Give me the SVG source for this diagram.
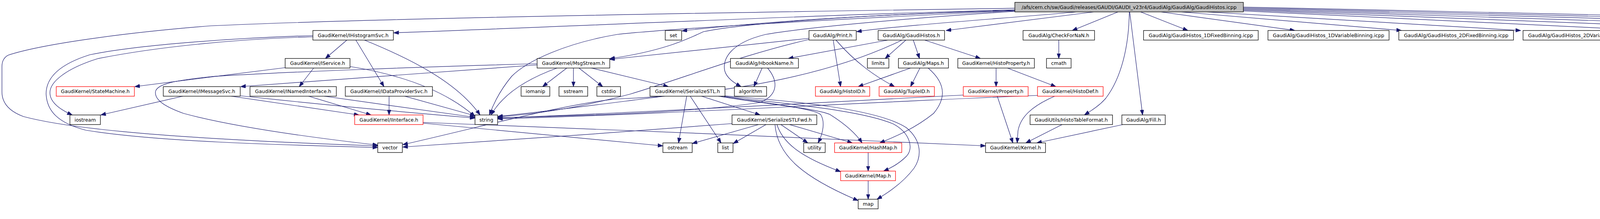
<svg xmlns="http://www.w3.org/2000/svg" width="6272" height="560" viewBox="0 0 6272 560">
<style>
.t{font-family:"DejaVu Sans","Liberation Sans",sans-serif;font-size:12.4px;text-anchor:middle;fill:#000}
.n{fill:#fff;stroke:#000;stroke-width:1.3}
.r{fill:#fff;stroke:#f00;stroke-width:1.3}
.g{fill:#bfbfbf;stroke:#000;stroke-width:1.3}
.e{fill:none;stroke:#191970;stroke-width:1.2;marker-end:url(#a)}
</style>
<defs>
<marker id="a" markerWidth="14" markerHeight="10" refX="13" refY="4.75" orient="auto" markerUnits="userSpaceOnUse"><path d="M0,0 L13,4.75 L0,9.5 z" fill="#191970" stroke="#191970" stroke-width="1"/></marker>
</defs>
<rect width="6272" height="560" fill="#fff"/>
<g id="connectors">
<path class="e" d="M2598,21 C2000,30 1000,45 540,66 C300,85 100,115 21,141 C8,148 5,160 5,170 L5,235 C5,265 25,285 60,298 C150,322 350,352 967,373"/>
<path class="e" d="M2598,25 C2100,38 1600,62 1008,84"/>
<path class="e" d="M2598,27 C2300,35 2000,50 1746,79"/>
<path class="e" d="M2598,26 C2200,38 1900,60 1801,81 C1760,100 1700,130 1561,150"/>
<path class="e" d="M2755,30.5 C2600,45 2300,65 2193,81"/>
<path class="e" d="M2800,30.5 L2422,78"/>
<path class="e" d="M2862,30.5 L2745,78"/>
<path class="e" d="M2891,30.5 C2890,120 2870,200 2831,251 C2815,270 2795,282 2776,294"/>
<path class="e" d="M2892,30.5 L2925,294"/>
<path class="e" d="M2920,30.5 L3041,78"/>
<path class="e" d="M2972,30.5 L3315,78"/>
<path class="e" d="M3024,30.5 L3588,78"/>
<path class="e" d="M3089,30.5 L3893,78"/>
<path class="e" d="M3183,28 L4229,78"/>
<path class="e" d="M3183,26 L4548,78"/>
<path class="e" d="M3183,24 L4883,78"/>
<path class="e" d="M3183,22 L5225,78"/>
<path class="e" d="M3183,20 L5585,78"/>
<path class="e" d="M3183,18 L5927,78"/>
<path class="e" d="M2598,29 C2300,48 2050,72 1960,88 C1870,110 1850,150 1855,180 C1860,200 1880,212 1897,221.5"/>
<path class="e" d="M2598,28 C2100,50 1700,75 1580,88 C1450,110 1350,155 1310,195 C1285,225 1265,260 1253,294"/>
<path class="e" d="M2273,102.5 L2018,149.5"/>
<path class="e" d="M2319,102.5 L2266,149.5"/>
<path class="e" d="M2338,102.5 L2354,149.5"/>
<path class="e" d="M2367,102.5 L2510,149.5"/>
<path class="e" d="M2309,102.5 C2150,180 1900,240 1580,253 C1450,265 1250,320 1031,370"/>
<path class="e" d="M2133,102.5 L2152,221.5"/>
<path class="e" d="M2140,102.5 C2190,160 2240,195 2290,221.5"/>
<path class="e" d="M2071,98 L1561,152"/>
<path class="e" d="M2071,101 C1900,140 1750,200 1612,241 C1500,270 1400,290 1274,299"/>
<path class="e" d="M2331,174 L2197,221.5"/>
<path class="e" d="M2355,174 L2331,221.5"/>
<path class="e" d="M2376,174 C2430,220 2415,260 2390,290 C2340,330 2290,350 2252,365.5"/>
<path class="e" d="M2550,174 L2550,221.5"/>
<path class="e" d="M2579,174 L2703,221.5"/>
<path class="e" d="M2553,246 L2593,365.5"/>
<path class="e" d="M2466,243 C2100,262 1700,285 1274,302"/>
<path class="e" d="M2700,246 C2640,272 2612,300 2606,335 L2604,365.5"/>
<path class="e" d="M2656,244 C2200,262 1750,290 1274,304"/>
<path class="e" d="M2719,318.5 L2626,365.5"/>
<path class="e" d="M2875,318.5 L2654,365.5"/>
<path class="e" d="M2710.5,102.5 L2710.5,149.5"/>
<path class="e" d="M1951,174 L1930,221.5"/>
<path class="e" d="M1965,174 C1995,210 1990,245 1945,262 C1800,285 1500,296 1274,301"/>
<path class="e" d="M1451,174 L1389,221.5"/>
<path class="e" d="M1468,174 L1468,221.5"/>
<path class="e" d="M1482,174 L1543,221.5"/>
<path class="e" d="M1426,174 C1340,205 1285,245 1257,294"/>
<path class="e" d="M1514,174 L1711,221.5"/>
<path class="e" d="M1375,166 L616,221.5"/>
<path class="e" d="M1375,163 C1100,170 700,185 540,196 C450,205 400,215 398,235 C396,255 420,272 470,290 C600,325 800,352 967,371"/>
<path class="e" d="M888,102.5 L833,149.5"/>
<path class="e" d="M911,102.5 L983,221.5"/>
<path class="e" d="M933,102.5 C1050,150 1170,210 1229,294"/>
<path class="e" d="M801,94 C600,100 400,120 250,150 C170,175 125,210 128,240 C130,265 160,283 185,294"/>
<path class="e" d="M801,91 C600,97 350,115 230,140 C150,165 118,200 118,240 C120,285 150,315 220,333 C400,362 700,370 967,377"/>
<path class="e" d="M803,174 L766,221.5"/>
<path class="e" d="M730,173 L345,221.5"/>
<path class="e" d="M896,170 C1050,195 1150,240 1216,298"/>
<path class="e" d="M468,246 L258,294"/>
<path class="e" d="M592,246 L919,294"/>
<path class="e" d="M616,245 C800,265 1050,288 1216,302"/>
<path class="e" d="M790,246 L950,294"/>
<path class="e" d="M830,246 C950,262 1100,285 1216,300"/>
<path class="e" d="M996,246 L996,294"/>
<path class="e" d="M1036,246 L1216,296"/>
<path class="e" d="M1083,313 C1500,330 2100,352 2523,373"/>
<path class="e" d="M1083,315 C1300,335 1550,360 1697,373"/>
<path class="e" d="M1701,246 C1550,265 1400,285 1274,298"/>
<path class="e" d="M1758,246 L1737,365.5"/>
<path class="e" d="M1767,246 L1846,365.5"/>
<path class="e" d="M1796,246 L1946,294"/>
<path class="e" d="M1839,246 C1950,265 2080,275 2101,293 C2112,310 2108,340 2094,365.5"/>
<path class="e" d="M1846,246 C1950,262 2100,280 2125,293 C2160,315 2190,340 2207,365.5"/>
<path class="e" d="M1853,246 C2000,265 2200,280 2287,317 C2330,340 2340,380 2320,400 C2300,420 2280,430 2262,437.5"/>
<path class="e" d="M1855,245 C2050,260 2250,280 2321,327 C2360,360 2360,400 2340,430 C2310,470 2270,495 2245,509.5"/>
<path class="e" d="M1942,318.5 L1772,367"/>
<path class="e" d="M1961,318.5 L1877,367"/>
<path class="e" d="M1999,318.5 L2068,365.5"/>
<path class="e" d="M2021,318.5 L2182,365.5"/>
<path class="e" d="M1989,318.5 C2005,370 2060,405 2152,439"/>
<path class="e" d="M1984,318.5 C1990,400 2060,455 2197,513"/>
<path class="e" d="M1874,316 C1600,338 1300,358 1031,376"/>
<path class="e" d="M2222.5,390 L2222.5,437.5"/>
<path class="e" d="M2222.5,462 L2222.5,509.5"/>
</g>
<g id="n_top"><rect class="g" x="2598" y="6" width="585" height="24.5"/><text class="t" x="2890.5" y="22.5">/afs/cern.ch/sw/Gaudi/releases/GAUDI/GAUDI_v23r4/GaudiAlg/GaudiAlg/GaudiHistos.icpp</text></g>
<g id="n_ihistosvc"><rect class="n" x="801" y="78" width="206" height="24.5"/><text class="t" x="904" y="94.5">GaudiKernel/IHistogramSvc.h</text></g>
<g id="n_set"><rect class="n" x="1703" y="78" width="42" height="24.5"/><text class="t" x="1724" y="94.5">set</text></g>
<g id="n_print"><rect class="n" x="2071" y="78" width="121" height="24.5"/><text class="t" x="2131.5" y="94.5">GaudiAlg/Print.h</text></g>
<g id="n_gaudihistos"><rect class="n" x="2248" y="78" width="170" height="24.5"/><text class="t" x="2333" y="94.5">GaudiAlg/GaudiHistos.h</text></g>
<g id="n_checkfornan"><rect class="n" x="2619" y="78" width="183" height="24.5"/><text class="t" x="2710.5" y="94.5">GaudiAlg/CheckForNaN.h</text></g>
<g id="n_1dfixed"><rect class="n" x="2927.5" y="78" width="293.5" height="24.5"/><text class="t" x="3074.25" y="94.5">GaudiAlg/GaudiHistos_1DFixedBinning.icpp</text></g>
<g id="n_1dvar"><rect class="n" x="3246" y="78" width="310" height="24.5"/><text class="t" x="3401" y="94.5">GaudiAlg/GaudiHistos_1DVariableBinning.icpp</text></g>
<g id="n_2dfixed"><rect class="n" x="3581" y="78" width="293.5" height="24.5"/><text class="t" x="3727.75" y="94.5">GaudiAlg/GaudiHistos_2DFixedBinning.icpp</text></g>
<g id="n_2dvar"><rect class="n" x="3899" y="78" width="311" height="24.5"/><text class="t" x="4054.5" y="94.5">GaudiAlg/GaudiHistos_2DVariableBinning.icpp</text></g>
<g id="n_3dfixed"><rect class="n" x="4235" y="78" width="293" height="24.5"/><text class="t" x="4381.5" y="94.5">GaudiAlg/GaudiHistos_3DFixedBinning.icpp</text></g>
<g id="n_3dvar"><rect class="n" x="4552" y="78" width="311" height="24.5"/><text class="t" x="4707.5" y="94.5">GaudiAlg/GaudiHistos_3DVariableBinning.icpp</text></g>
<g id="n_1dproffixed"><rect class="n" x="4888" y="78" width="317" height="24.5"/><text class="t" x="5046.5" y="94.5">GaudiAlg/GaudiHistos_1DProfFixedBinning.icpp</text></g>
<g id="n_1dprofvar"><rect class="n" x="5229" y="78" width="336" height="24.5"/><text class="t" x="5397" y="94.5">GaudiAlg/GaudiHistos_1DProfVariableBinning.icpp</text></g>
<g id="n_2dproffixed"><rect class="n" x="5589" y="78" width="318" height="24.5"/><text class="t" x="5748" y="94.5">GaudiAlg/GaudiHistos_2DProfFixedBinning.icpp</text></g>
<g id="n_2dprofvar"><rect class="n" x="5931" y="78" width="336" height="24.5"/><text class="t" x="6099" y="94.5">GaudiAlg/GaudiHistos_2DProfVariableBinning.icpp</text></g>
<g id="n_iservice"><rect class="n" x="730" y="149.5" width="166" height="24.5"/><text class="t" x="813" y="166">GaudiKernel/IService.h</text></g>
<g id="n_msgstream"><rect class="n" x="1375" y="149.5" width="186" height="24.5"/><text class="t" x="1468" y="166">GaudiKernel/MsgStream.h</text></g>
<g id="n_hbookname"><rect class="n" x="1870" y="149.5" width="174" height="24.5"/><text class="t" x="1957" y="166">GaudiAlg/HbookName.h</text></g>
<g id="n_limits"><rect class="n" x="2220.5" y="149.5" width="55" height="24.5"/><text class="t" x="2248" y="166">limits</text></g>
<g id="n_maps"><rect class="n" x="2300" y="149.5" width="128" height="24.5"/><text class="t" x="2364" y="166">GaudiAlg/Maps.h</text></g>
<g id="n_histoproperty"><rect class="n" x="2452" y="149.5" width="196" height="24.5"/><text class="t" x="2550" y="166">GaudiKernel/HistoProperty.h</text></g>
<g id="n_cmath"><rect class="n" x="2679" y="149.5" width="63" height="24.5"/><text class="t" x="2710.5" y="166">cmath</text></g>
<g id="n_statemachine"><rect class="r" x="144" y="221.5" width="200" height="24.5"/><text class="t" x="244" y="238">GaudiKernel/StateMachine.h</text></g>
<g id="n_imessagesvc"><rect class="n" x="418" y="221.5" width="197" height="24.5"/><text class="t" x="516.5" y="238">GaudiKernel/IMessageSvc.h</text></g>
<g id="n_inamedinterface"><rect class="n" x="640" y="221.5" width="221" height="24.5"/><text class="t" x="750.5" y="238">GaudiKernel/INamedInterface.h</text></g>
<g id="n_idataprovidersvc"><rect class="n" x="884" y="221.5" width="223" height="24.5"/><text class="t" x="995.5" y="238">GaudiKernel/IDataProviderSvc.h</text></g>
<g id="n_iomanip"><rect class="n" x="1334" y="221.5" width="73.5" height="24.5"/><text class="t" x="1370.75" y="238">iomanip</text></g>
<g id="n_sstream"><rect class="n" x="1431" y="221.5" width="73.5" height="24.5"/><text class="t" x="1467.75" y="238">sstream</text></g>
<g id="n_cstdio"><rect class="n" x="1528" y="221.5" width="60.5" height="24.5"/><text class="t" x="1558.25" y="238">cstdio</text></g>
<g id="n_serializestl"><rect class="n" x="1664" y="221.5" width="192" height="24.5"/><text class="t" x="1760" y="238">GaudiKernel/SerializeSTL.h</text></g>
<g id="n_algorithm"><rect class="n" x="1880" y="221.5" width="82.5" height="24.5"/><text class="t" x="1921.25" y="238">algorithm</text></g>
<g id="n_histoid"><rect class="r" x="2087.5" y="221.5" width="139" height="24.5"/><text class="t" x="2157" y="238">GaudiAlg/HistoID.h</text></g>
<g id="n_tupleid"><rect class="r" x="2250.5" y="221.5" width="141.5" height="24.5"/><text class="t" x="2321.25" y="238">GaudiAlg/TupleID.h</text></g>
<g id="n_property"><rect class="r" x="2466" y="221.5" width="166" height="24.5"/><text class="t" x="2549" y="238">GaudiKernel/Property.h</text></g>
<g id="n_histodef"><rect class="r" x="2656" y="221.5" width="168" height="24.5"/><text class="t" x="2740" y="238">GaudiKernel/HistoDef.h</text></g>
<g id="n_iostream"><rect class="n" x="179" y="294" width="78" height="24.5"/><text class="t" x="218" y="310.5">iostream</text></g>
<g id="n_iinterface"><rect class="r" x="908" y="294" width="175" height="24.5"/><text class="t" x="995.5" y="310.5">GaudiKernel/IInterface.h</text></g>
<g id="n_string"><rect class="n" x="1216" y="294" width="58" height="24.5"/><text class="t" x="1245" y="310.5">string</text></g>
<g id="n_serializestlfwd"><rect class="n" x="1874" y="294" width="217" height="24.5"/><text class="t" x="1982.5" y="310.5">GaudiKernel/SerializeSTLFwd.h</text></g>
<g id="n_histotableformat"><rect class="n" x="2637" y="294" width="211" height="24.5"/><text class="t" x="2742.5" y="310.5">GaudiUtils/HistoTableFormat.h</text></g>
<g id="n_fill"><rect class="n" x="2872" y="294" width="111" height="24.5"/><text class="t" x="2927.5" y="310.5">GaudiAlg/Fill.h</text></g>
<g id="n_vector"><rect class="n" x="967" y="365.5" width="63" height="24.5"/><text class="t" x="998.5" y="382">vector</text></g>
<g id="n_ostream"><rect class="n" x="1697" y="365.5" width="75" height="24.5"/><text class="t" x="1734.5" y="382">ostream</text></g>
<g id="n_list"><rect class="n" x="1837.5" y="365.5" width="39" height="24.5"/><text class="t" x="1857" y="382">list</text></g>
<g id="n_utility"><rect class="n" x="2057.5" y="365.5" width="55" height="24.5"/><text class="t" x="2085" y="382">utility</text></g>
<g id="n_hashmap"><rect class="r" x="2136.5" y="365.5" width="172" height="24.5"/><text class="t" x="2222.5" y="382">GaudiKernel/HashMap.h</text></g>
<g id="n_kernel"><rect class="n" x="2523" y="365.5" width="153.5" height="24.5"/><text class="t" x="2599.75" y="382">GaudiKernel/Kernel.h</text></g>
<g id="n_maph"><rect class="r" x="2152" y="437.5" width="140.5" height="24.5"/><text class="t" x="2222.25" y="454">GaudiKernel/Map.h</text></g>
<g id="n_map"><rect class="n" x="2197" y="509.5" width="51" height="24.5"/><text class="t" x="2222.5" y="526">map</text></g>
</svg>
